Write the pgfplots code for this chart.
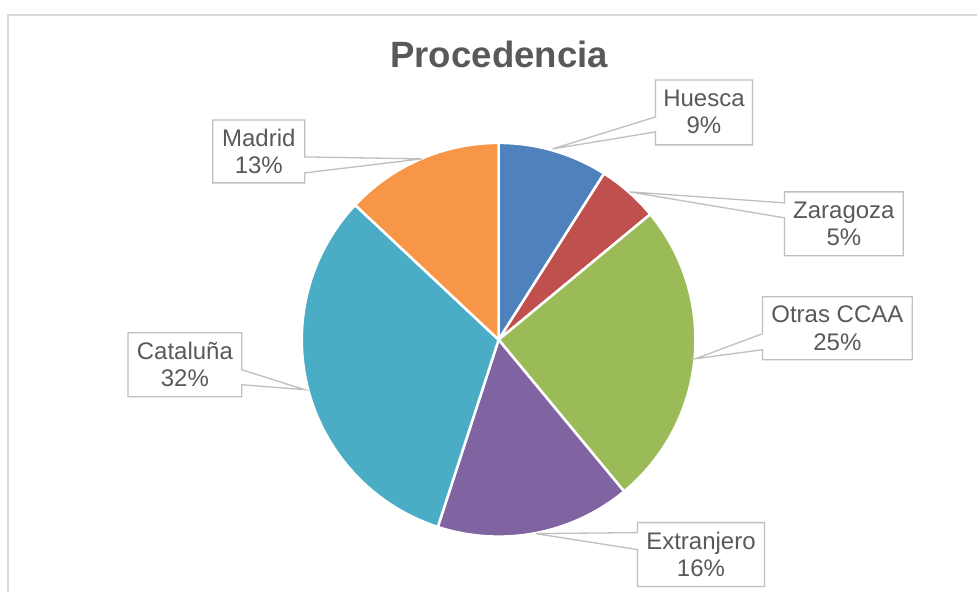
\documentclass[border=0pt]{standalone}
\usepackage{pgfplots}
\pgfplotsset{compat=1.18}
\usepackage{fontspec}
\setmainfont{Liberation Sans}
\definecolor{cHu}{HTML}{4F81BD}
\definecolor{cZa}{HTML}{C0504D}
\definecolor{cOt}{HTML}{9BBB59}
\definecolor{cEx}{HTML}{8064A2}
\definecolor{cCa}{HTML}{4BACC6}
\definecolor{cMa}{HTML}{F79646}
\definecolor{txt}{HTML}{595959}
\definecolor{lbl}{HTML}{BFBFBF}
\definecolor{frm}{HTML}{D9D9D9}
% slice: start (cumulative %), end (cumulative %), colour
\newcommand{\slice}[3]{%
  \addplot[fill=#3, draw=white, line width=2.5pt, line join=round,
    domain=#1:#2, samples=60, variable=\t]
    ({499+197*sin(3.6*\t)},{340-197*cos(3.6*\t)}) -- (axis cs:499,340) -- cycle;}
\begin{document}
\begin{tikzpicture}
\begin{axis}[hide axis, scale only axis, width=978pt, height=592pt,
  xmin=0, xmax=978, ymin=0, ymax=592, y dir=reverse, clip=false]
\fill[white] (axis cs:0,0) rectangle (axis cs:978,592);
\draw[frm, line width=1.5pt, line cap=butt] (axis cs:8,592) -- (axis cs:8,15) -- (axis cs:978,15);
% values: Huesca 9, Zaragoza 5, Otras CCAA 25, Extranjero 16, Cataluna 32, Madrid 13
\slice{0}{9}{cHu}
\slice{9}{14}{cZa}
\slice{14}{39}{cOt}
\slice{39}{55}{cEx}
\slice{55}{87}{cCa}
\slice{87}{100}{cMa}
% title
\node[anchor=base, text=txt, font=\fontsize{36.6}{40}\selectfont\bfseries] at (axis cs:499.5,68) {Procedencia};
% callouts
\tikzset{co/.style={draw=lbl, fill=white, line width=1.3pt, line join=miter}}
\tikzset{lt/.style={anchor=base, text=txt, font=\fontsize{24}{27}\selectfont}}
% Madrid
\draw[co] (axis cs:213,120) -- (axis cs:305,120) -- (axis cs:305,157) -- (axis cs:422,159) -- (axis cs:305,173) -- (axis cs:305,183) -- (axis cs:213,183) -- cycle;
\node[lt] at (axis cs:259,147) {Madrid};
\node[lt] at (axis cs:259,174) {13\%};
% Huesca
\draw[co] (axis cs:656,80) -- (axis cs:753,80) -- (axis cs:753,145) -- (axis cs:656,145) -- (axis cs:656,132) -- (axis cs:553,149) -- (axis cs:656,117) -- cycle;
\node[lt] at (axis cs:704.5,107) {Huesca};
\node[lt] at (axis cs:704.5,134) {9\%};
% Zaragoza
\draw[co] (axis cs:785,192) -- (axis cs:904,192) -- (axis cs:904,256) -- (axis cs:785,256) -- (axis cs:785,218) -- (axis cs:630,192) -- (axis cs:785,203) -- cycle;
\node[lt] at (axis cs:844.5,219) {Zaragoza};
\node[lt] at (axis cs:844.5,246) {5\%};
% Otras CCAA
\draw[co] (axis cs:763,297) -- (axis cs:913,297) -- (axis cs:913,360) -- (axis cs:763,360) -- (axis cs:763,350) -- (axis cs:696,359) -- (axis cs:763,334) -- cycle;
\node[lt] at (axis cs:838,323) {Otras CCAA};
\node[lt] at (axis cs:838,351) {25\%};
% Cataluna
\draw[co] (axis cs:128,333) -- (axis cs:242,333) -- (axis cs:242,370) -- (axis cs:305,390) -- (axis cs:242,385) -- (axis cs:242,397) -- (axis cs:128,397) -- cycle;
\node[lt] at (axis cs:185,360) {Cataluña};
\node[lt] at (axis cs:185,387) {32\%};
% Extranjero
\draw[co] (axis cs:638,523) -- (axis cs:765,523) -- (axis cs:765,587) -- (axis cs:638,587) -- (axis cs:638,550) -- (axis cs:536,534) -- (axis cs:638,533) -- cycle;
\node[lt] at (axis cs:701.5,550) {Extranjero};
\node[lt] at (axis cs:701.5,577) {16\%};
\end{axis}
\end{tikzpicture}
\end{document}
